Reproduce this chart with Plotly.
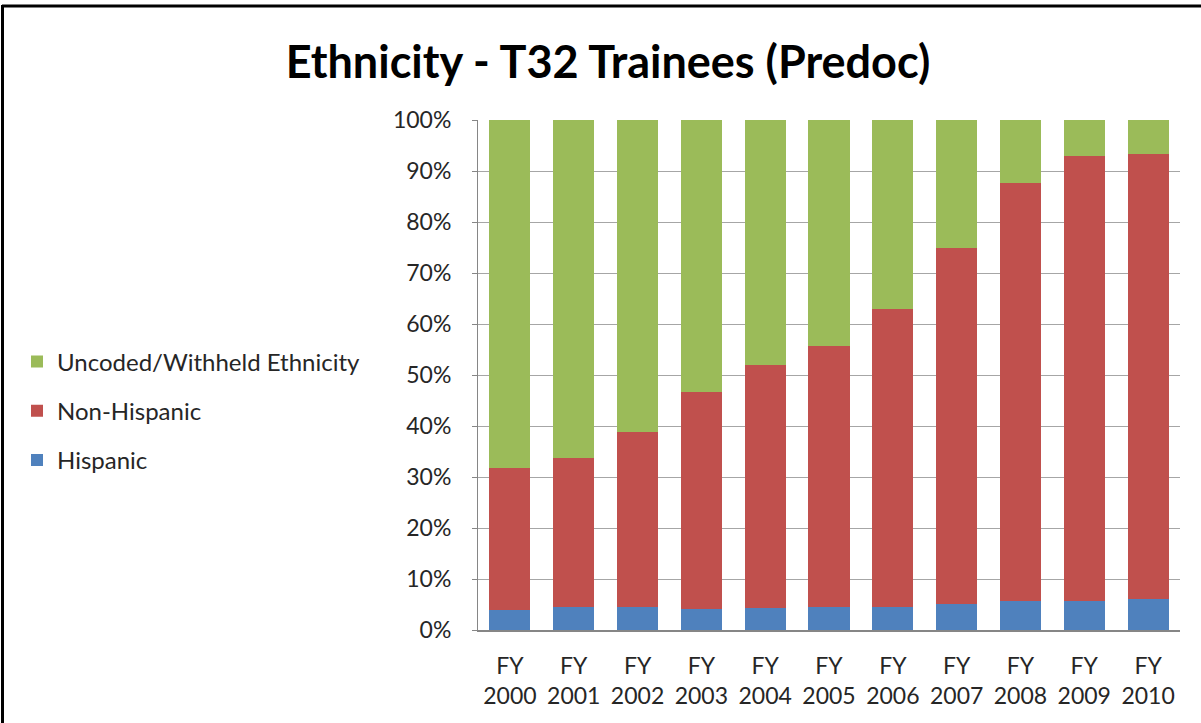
import plotly.graph_objects as go

# Share of T32 predoctoral trainees by ethnicity, per fiscal year (percent)
years = ["FY<br>2000", "FY<br>2001", "FY<br>2002", "FY<br>2003", "FY<br>2004", "FY<br>2005",
         "FY<br>2006", "FY<br>2007", "FY<br>2008", "FY<br>2009", "FY<br>2010"]
hispanic = [3.9, 4.6, 4.6, 4.1, 4.4, 4.6, 4.6, 5.1, 5.6, 5.6, 6.1]
non_hispanic = [27.9, 29.2, 34.2, 42.5, 47.5, 51.1, 58.4, 69.8, 82.1, 87.4, 87.2]
uncoded = [68.2, 66.2, 61.2, 53.4, 48.1, 44.3, 37.0, 25.1, 12.3, 7.0, 6.7]
y_ticks = [0, 10, 20, 30, 40, 50, 60, 70, 80, 90, 100]
y_tick_labels = ["0%", "10%", "20%", "30%", "40%", "50%", "60%", "70%", "80%", "90%", "100%"]

FONT = "Lato"
W, H = 1201, 723
ML, MR, MT, MB = 478, 21, 120, 93
PW, PH = W - ML - MR, H - MT - MB


def px_x(px):
    return (px - ML) / PW


def px_y(py):
    return (H - MB - py) / PH


fig = go.Figure()
fig.add_trace(go.Bar(x=years, y=hispanic, name="Hispanic", legendrank=3, legendgroup="hisp",
                     marker=dict(color="#4F81BD", line=dict(width=0))))
fig.add_trace(go.Bar(x=years, y=non_hispanic, name="Non-Hispanic", legendrank=2, legendgroup="non",
                     marker=dict(color="#C0504D", line=dict(width=0))))
fig.add_trace(go.Bar(x=years, y=uncoded, name="Uncoded/Withheld Ethnicity", legendrank=1,
                     legendgroup="unc", marker=dict(color="#9BBB59", line=dict(width=0))))

# outer frame (top and left edges)
frame = dict(color="black", width=3)
fig.add_shape(type="line", xref="paper", yref="paper",
              x0=px_x(2), x1=px_x(W + 5), y0=px_y(6), y1=px_y(6), line=frame)
fig.add_shape(type="line", xref="paper", yref="paper",
              x0=px_x(2.5), x1=px_x(2.5), y0=px_y(5), y1=px_y(H + 5), line=frame)

fig.update_layout(
    width=W, height=H,
    margin=dict(l=ML, r=MR, t=MT, b=MB, autoexpand=False),
    paper_bgcolor="white", plot_bgcolor="white",
    barmode="stack", bargap=0.357,
    title=dict(text="<b>Ethnicity - T32 Trainees (Predoc)</b>",
               x=608 / W, xanchor="center", y=1 - 62 / H, yanchor="middle",
               font=dict(family=FONT, size=45, color="black")),
    font=dict(family=FONT, size=23, color="#262626"),
    legend=dict(x=px_x(17), xanchor="left", y=px_y(411), yanchor="middle",
                traceorder="grouped", tracegroupgap=15, itemwidth=30,
                font=dict(family=FONT, size=24, color="#262626"),
                bgcolor="rgba(0,0,0,0)"),
    showlegend=True,
)
fig.update_yaxes(range=[0, 100], tickvals=y_ticks, ticktext=y_tick_labels,
                 showgrid=True, gridcolor="#A6A6A6", gridwidth=1,
                 showline=True, linecolor="#868686", linewidth=1,
                 ticks="outside", ticklen=5, tickcolor="#868686",
                 zeroline=False, ticklabelstandoff=16,
                 tickfont=dict(family=FONT, size=23, color="#262626"))
fig.update_xaxes(showline=True, linecolor="#868686", linewidth=2,
                 ticks="", showgrid=False, ticklabelstandoff=14,
                 tickfont=dict(family=FONT, size=23, color="#262626"))

fig.write_html("out.html")
